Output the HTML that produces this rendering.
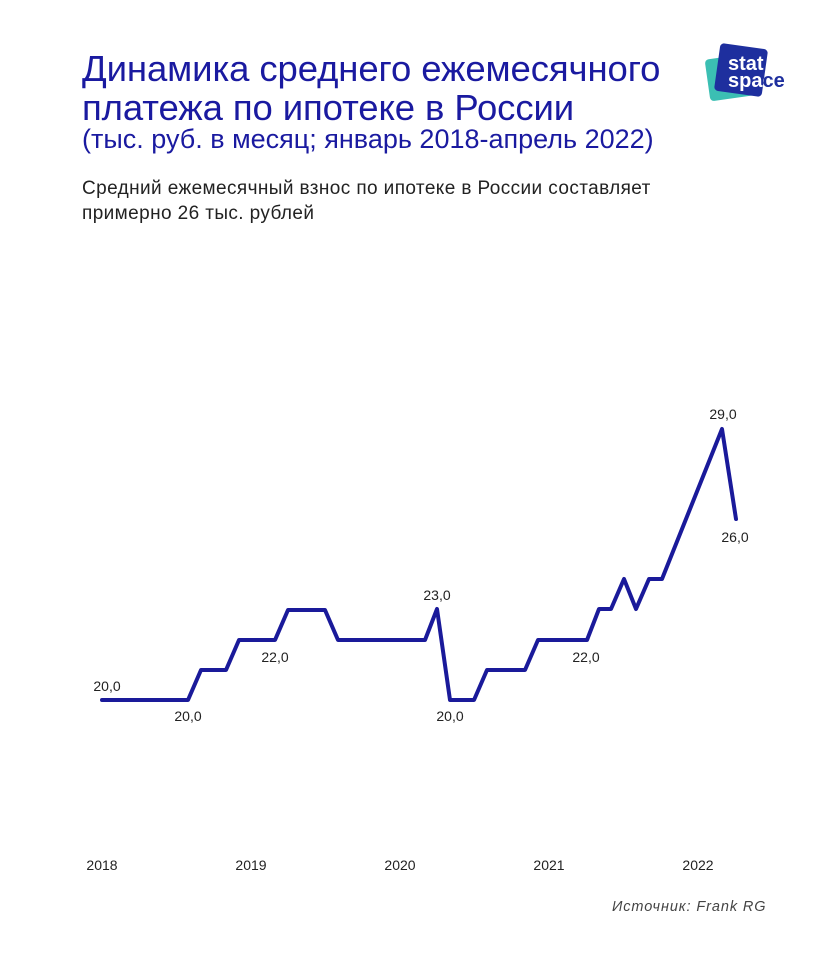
<!DOCTYPE html>
<html><head><meta charset="utf-8"><style>
body{margin:0;width:840px;height:961px;background:#fff;font-family:"Liberation Sans","DejaVu Sans",sans-serif;position:relative;overflow:hidden}
.t{position:absolute;left:82px;top:49px;color:#1a1aa0;font-size:36.5px;line-height:39px;letter-spacing:-0.1px}
.t2{position:absolute;left:82px;top:124px;color:#1a1aa0;font-size:27px}
.s{position:absolute;left:82px;top:176px;color:#222;font-size:19px;line-height:25px;letter-spacing:0.4px}
.src{position:absolute;left:612px;top:899px;font-size:14.5px;font-style:italic;color:#444;letter-spacing:0.9px}
</style></head><body>
<div class="t">Динамика среднего ежемесячного<br>платежа по ипотеке в России</div>
<div class="t2">(тыс. руб. в месяц; январь 2018-апрель 2022)</div>
<div class="s">Средний ежемесячный взнос по ипотеке в России составляет<br>примерно 26 тыс. рублей</div>
<svg width="840" height="961" style="position:absolute;left:0;top:0">
<defs><clipPath id="c"><rect x="717" y="46" width="48" height="48" rx="4" transform="rotate(8 741 70)"/></clipPath></defs>
<g transform="rotate(-8 733 75)"><rect x="707" y="56" width="48" height="42" rx="4" fill="#3bbfb3"/></g>
<rect x="717" y="46" width="48" height="48" rx="4" fill="#1e2f9e" transform="rotate(8 741 70)"/>
<text x="728" y="70" font-size="20" font-weight="bold" fill="#fff">stat</text>
<text x="728" y="87" font-size="20" font-weight="bold" fill="#1e2f9e">space</text>
<text x="728" y="87" font-size="20" font-weight="bold" fill="#fff" clip-path="url(#c)">space</text>
<polyline fill="none" stroke="#1a1a9a" stroke-width="4" stroke-linejoin="round" stroke-linecap="round" points="102,700 188,700 201,670 226,670 239,640 275,640 288,610 325,610 338,640 425,640 437,609 450,700 474,700 487,670 525,670 538,640 587,640 599,609 611,609 624,579 636,609 649,579 662,579 722,429 736,519"/>
<g font-size="14" fill="#222" text-anchor="middle">
<text x="107" y="691">20,0</text><text x="188" y="721">20,0</text><text x="275" y="662">22,0</text>
<text x="437" y="600">23,0</text><text x="450" y="721">20,0</text><text x="586" y="662">22,0</text>
<text x="723" y="419">29,0</text><text x="735" y="542">26,0</text>
<text x="102" y="870">2018</text><text x="251" y="870">2019</text><text x="400" y="870">2020</text><text x="549" y="870">2021</text><text x="698" y="870">2022</text>
</g></svg>
<div class="src">Источник: Frank RG</div>
</body></html>
